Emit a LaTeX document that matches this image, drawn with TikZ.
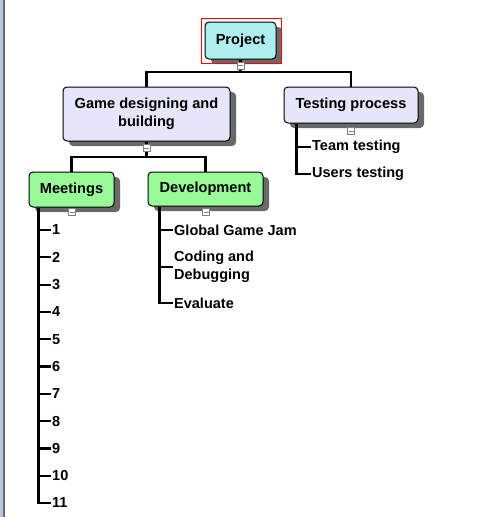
\documentclass[tikz,border=0pt]{standalone}
\usepackage{fontspec}
\setmainfont{Liberation Sans}
\usetikzlibrary{shadows}

\definecolor{projcyan}{HTML}{AFEEEE}
\definecolor{grouplav}{HTML}{E6E6FA}
\definecolor{taskgreen}{HTML}{98FB98}
\definecolor{shadowgray}{HTML}{696969}
\definecolor{borderblue}{HTML}{B8C8E0}

\tikzset{
  box/.style={draw, line width=1pt, rounded corners=4pt, align=center,
    font=\bfseries\fontsize{14.6}{18}\selectfont, inner sep=0pt,
    drop shadow={shadow xshift=6pt, shadow yshift=-5pt, fill=shadowgray, opacity=1}},
  leaf/.style={anchor=west, inner sep=1pt, align=left,
    font=\bfseries\fontsize{14.5}{18}\selectfont},
  link/.style={line width=2.2pt},
  collapse/.style={draw=gray, fill=white, line width=0.8pt, minimum size=7pt, inner sep=0pt,
    path picture={\draw[line width=1pt] ([xshift=-2.5pt]path picture bounding box.center)
      -- ([xshift=2.5pt]path picture bounding box.center);}}
}

\begin{document}
\begin{tikzpicture}[x=1pt,y=-1pt]
  \useasboundingbox (0,0) rectangle (486,517);
  % Draw window border
  \fill[borderblue] (0,0) rectangle (3,517);
  \fill[shadowgray] (3,0) rectangle (5,517);

  % Draw main boxes
  \node[box, fill=projcyan, minimum width=71pt, minimum height=37pt] (proj) at (240.5,40.5) {Project};
  \node[box, fill=grouplav, minimum width=167pt, minimum height=54pt] (game) at (146.5,114) {Game designing and\\building};
  \node[box, fill=grouplav, minimum width=134pt, minimum height=36pt] (test) at (351,105) {Testing process};
  \node[box, fill=taskgreen, minimum width=85pt, minimum height=35pt] (meet) at (71.5,189.5) {Meetings};
  \node[box, fill=taskgreen, minimum width=115pt, minimum height=34pt] (dev) at (205.5,189) {Development};

  % Draw selection frame
  \draw[red, line width=1pt] (201,18) rectangle (281,63);

  % Draw tree links
  \draw[link] (proj.south) -- (proj.south |- 0,72) -| (game.north);
  \draw[link] (proj.south |- 0,72) -| (test.north);
  \draw[link] (game.south) -- (game.south |- 0,157) -| (meet.north);
  \draw[link] (game.south |- 0,157) -| (dev.north);

  % Draw testing items
  \node[leaf] (t1) at (311,147) {Team testing};
  \node[leaf] (t2) at (311,174) {Users testing};
  \draw[link] ([xshift=13pt]test.south west) |- (t2.west);
  \draw[link] ([xshift=13pt]test.south west |- t1.west) -- (t1.west);

  % Draw development items
  \node[leaf] (d1) at (173,230) {Global Game Jam};
  \node[leaf] (d2) at (173,267) {Coding and\\Debugging};
  \node[leaf] (d3) at (173,303) {Evaluate};
  \draw[link] ([xshift=12pt]dev.south west) |- (d3.west);
  \foreach \d in {d1,d2}
    \draw[link] ([xshift=12pt]dev.south west |- \d.west) -- (\d.west);

  % Draw meeting items
  \foreach \i in {1,...,11}
    \node[leaf] (m\i) at (51,{230+27.3*(\i-1)}) {\i};
  \draw[link] ([xshift=10pt]meet.south west) |- (m11.west);
  \foreach \i in {1,...,10}
    \draw[link] ([xshift=10pt]meet.south west |- m\i.west) -- (m\i.west);

  % Draw collapse buttons
  \node[collapse] (cproj) at (240.5,65.5) {};
  \node[collapse] (cgame) at (146.5,148) {};
  \node[collapse] (ctest) at (351,131) {};
  \node[collapse] (cmeet) at (72,212) {};
  \node[collapse] (cdev) at (206,212) {};
\end{tikzpicture}
\end{document}
